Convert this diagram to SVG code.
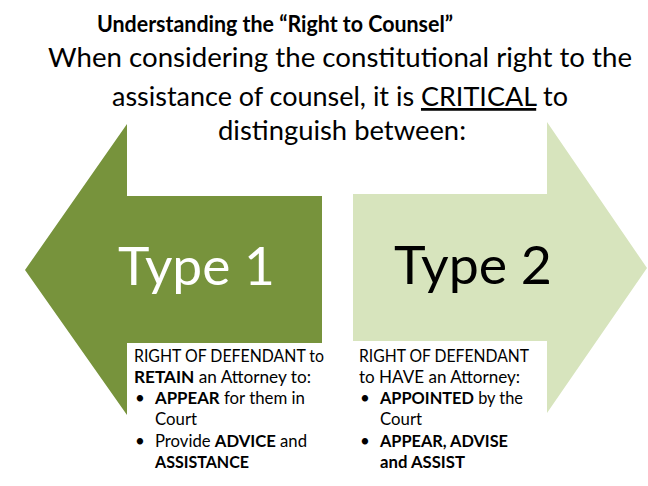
<svg xmlns="http://www.w3.org/2000/svg" width="648" height="486" viewBox="0 0 648 486">
  <style>
    text { font-family: "Lato", "Liberation Sans", sans-serif; }
    .title { font-size: 22.5px; font-weight: 700; fill: #000; }
    .sub { font-size: 27.5px; fill: #000; }
    .type { font-size: 53px; }
    .body { font-size: 17px; fill: #000; }
    .b { font-weight: 700; }
    .dark { fill: #77933C; }
    .light { fill: #D7E4BD; }
  </style>

  <rect width="648" height="486" fill="#FFFFFF"/>

  <!-- heading -->
  <g id="heading">
    <text class="title" x="97" y="32" textLength="356" lengthAdjust="spacingAndGlyphs">Understanding the “Right to Counsel”</text>
    <text class="sub" x="48" y="67" textLength="584" lengthAdjust="spacingAndGlyphs">When considering the constitutional right to the</text>
    <text class="sub" x="112" y="106" textLength="456" lengthAdjust="spacingAndGlyphs">assistance of counsel, it is <tspan text-decoration="underline">CRITICAL</tspan> to</text>
    <text class="sub" x="218" y="140" textLength="248" lengthAdjust="spacingAndGlyphs">distinguish between:</text>
  </g>

  <!-- left-pointing arrow -->
  <g id="type1">
    <polygon class="dark" points="25,270 127,124 127,196 322,196 322,343 127,343 127,415"/>
    <text class="type" x="118" y="285" fill="#FFFFFF" textLength="157" lengthAdjust="spacingAndGlyphs">Type 1</text>
  </g>

  <!-- right-pointing arrow -->
  <g id="type2">
    <polygon class="light" points="353,194 547,194 547,122 647,268 547,413 547,341 353,341"/>
    <text class="type" x="394" y="284" fill="#000000" textLength="158" lengthAdjust="spacingAndGlyphs">Type 2</text>
  </g>

  <!-- description under Type 1 -->
  <g id="desc1" class="body">
    <text class="body" x="134" y="362" textLength="190" lengthAdjust="spacingAndGlyphs">RIGHT OF DEFENDANT to</text>
    <text class="body" x="134" y="383" textLength="177" lengthAdjust="spacingAndGlyphs"><tspan class="b">RETAIN</tspan> an Attorney to:</text>
    <text class="body" x="135" y="404">•</text>
    <text class="body" x="155" y="404" textLength="150" lengthAdjust="spacingAndGlyphs"><tspan class="b">APPEAR</tspan> for them in</text>
    <text class="body" x="155" y="425" textLength="42" lengthAdjust="spacingAndGlyphs">Court</text>
    <text class="body" x="135" y="447">•</text>
    <text class="body" x="155" y="447" textLength="152" lengthAdjust="spacingAndGlyphs">Provide <tspan class="b">ADVICE</tspan> and</text>
    <text class="body b" x="155" y="468" textLength="94" lengthAdjust="spacingAndGlyphs">ASSISTANCE</text>
  </g>

  <!-- description under Type 2 -->
  <g id="desc2" class="body">
    <text class="body" x="359" y="362" textLength="170" lengthAdjust="spacingAndGlyphs">RIGHT OF DEFENDANT</text>
    <text class="body" x="359" y="383" textLength="161" lengthAdjust="spacingAndGlyphs">to HAVE an Attorney:</text>
    <text class="body" x="360" y="404">•</text>
    <text class="body" x="380" y="404" textLength="143" lengthAdjust="spacingAndGlyphs"><tspan class="b">APPOINTED</tspan> by the</text>
    <text class="body" x="380" y="425" textLength="42" lengthAdjust="spacingAndGlyphs">Court</text>
    <text class="body" x="360" y="447">•</text>
    <text class="body b" x="380" y="447" textLength="128" lengthAdjust="spacingAndGlyphs">APPEAR, ADVISE</text>
    <text class="body b" x="380" y="468" textLength="85" lengthAdjust="spacingAndGlyphs">and ASSIST</text>
  </g>
</svg>
